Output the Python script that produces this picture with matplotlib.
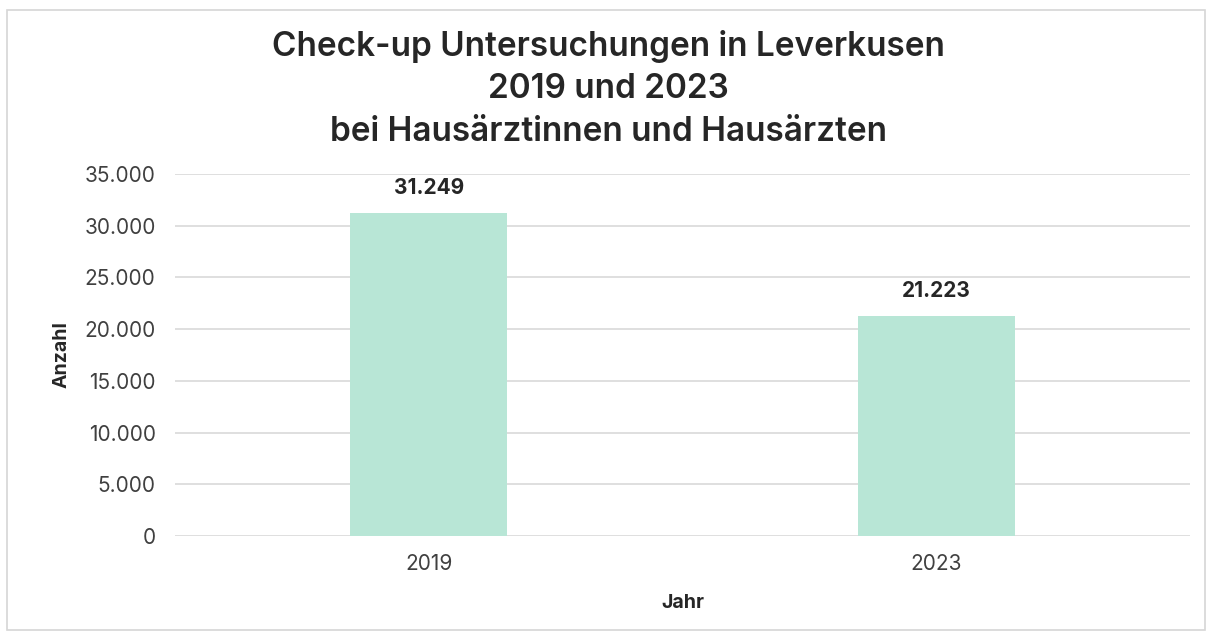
# Balkendiagramm: Check-up Untersuchungen Leverkusen
import matplotlib.pyplot as plt
from matplotlib.patches import Rectangle
from matplotlib.ticker import FuncFormatter

plt.rcParams['font.family'] = ['Inter', 'DejaVu Sans']

# Daten
jahre = ["2019", "2023"]
anzahl = [31249, 21223]
y_ticks = [0, 5000, 10000, 15000, 20000, 25000, 30000, 35000]

def tausender(v, pos=None):
    return f"{int(v):,}".replace(",", ".")

fig = plt.figure(figsize=(12.12, 6.35), dpi=100)
ax = fig.add_axes([0.1444, 0.1559, 0.8374, 0.5701])

# Rahmen um die ganze Grafik
fig.patches.append(Rectangle((0.006, 0.008), 0.988, 0.976, transform=fig.transFigure,
                             fill=False, edgecolor='#d6d6d6', linewidth=1.2))

x = range(len(jahre))
bars = ax.bar(x, anzahl, width=0.31, color='#b8e6d6', zorder=2)

for xi, v in zip(x, anzahl):
    ax.annotate(tausender(v), (xi, v), xytext=(0, 11), textcoords='offset points',
                ha='center', va='bottom', fontsize=15, fontweight='bold', color='#262626')

ax.set_xlim(-0.5, 1.5)
ax.set_ylim(0, 35000)
ax.set_yticks(y_ticks)
ax.yaxis.set_major_formatter(FuncFormatter(tausender))
ax.set_xticks(list(x))
ax.set_xticklabels(jahre)
ax.grid(axis='y', color='#d9d9d9', linewidth=1.2, zorder=0)
for s in ax.spines.values():
    s.set_visible(False)
ax.tick_params(axis='both', length=0, labelsize=15, colors='#404040')
ax.tick_params(axis='y', pad=14)
ax.tick_params(axis='x', pad=13)

ax.set_ylabel("Anzahl", fontsize=14, fontweight='bold', color='#262626', labelpad=10)
ax.set_xlabel("Jahr", fontsize=14, fontweight='bold', color='#262626', labelpad=14)

fig.text(0.502, 0.953, "Check-up Untersuchungen in Leverkusen\n2019 und 2023\nbei Hausärztinnen und Hausärzten",
         ha='center', va='top', fontsize=24, fontweight='semibold', color='#262626', linespacing=1.42)

plt.savefig("out.png", dpi=100)
